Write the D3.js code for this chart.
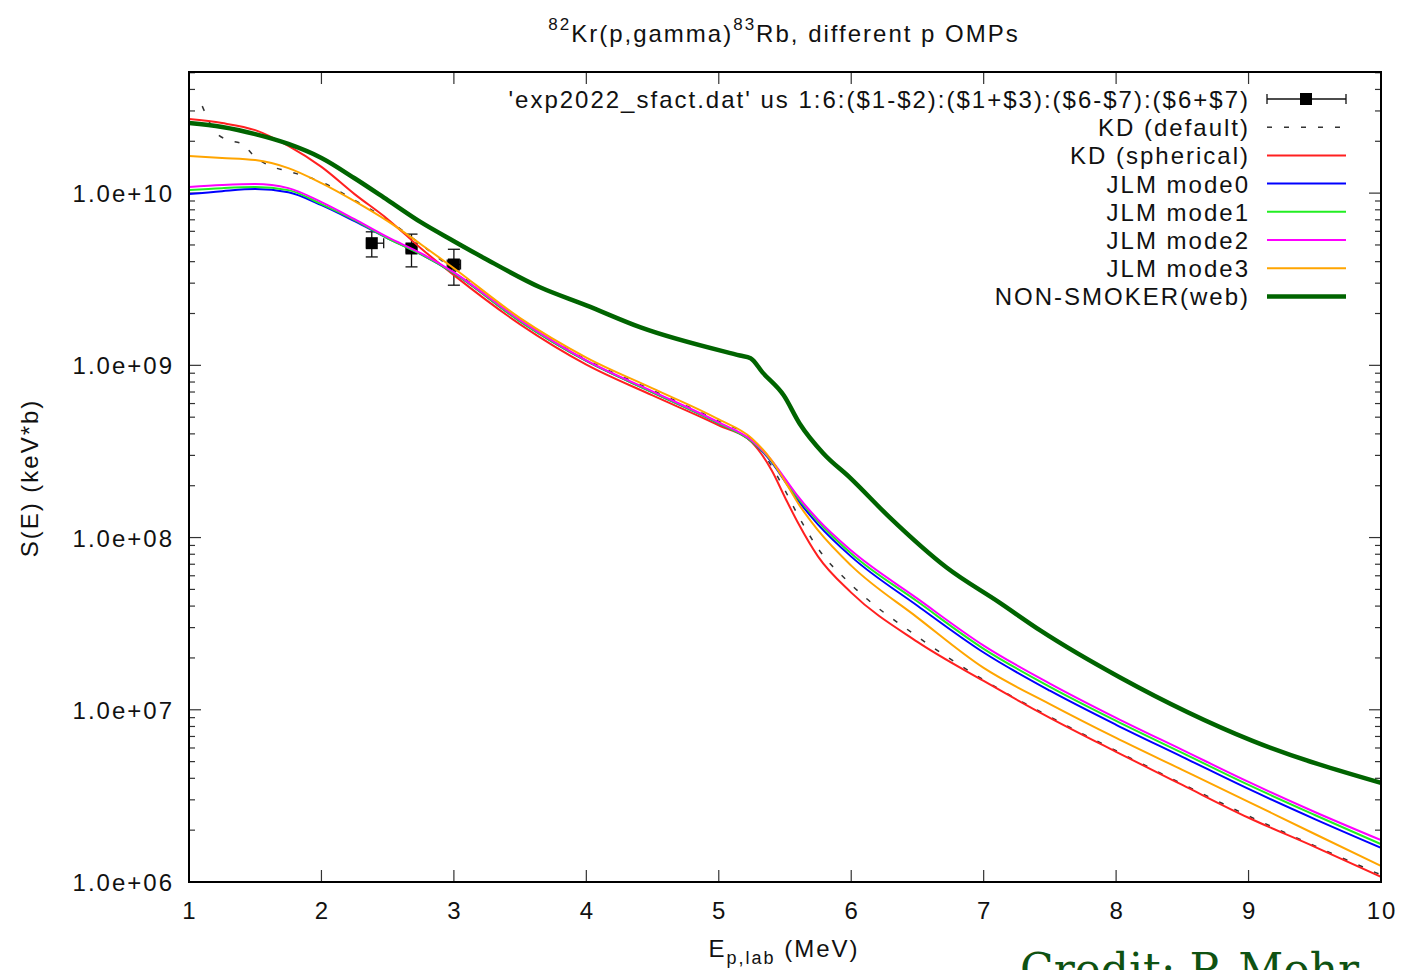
<!DOCTYPE html>
<html>
<head>
<meta charset="utf-8">
<script src="https://cdn.jsdelivr.net/npm/d3@7"></script>
<style>
  body { margin: 0; background: #fff; }
  text { font-family: "Liberation Sans", Arial, sans-serif; fill: #111; }
</style>
</head>
<body>
<div id="vis"></div>
<script>
var width = 1401
var height = 970

// energy grid (MeV) shared by the TALYS-type curves
var energyGrid = [1, 1.25, 1.5, 1.75, 2, 2.25, 2.5, 2.75, 3, 3.5, 4, 4.5, 5, 5.25, 5.4, 5.5, 5.6, 5.75, 6, 6.5, 7, 7.5, 8, 8.5, 9, 9.5, 10]

var kdSpherical = [2.69e10, 2.55e10, 2.32e10, 1.88e10, 1.42e10, 9.87e9, 7.06e9, 4.79e9, 3.34e9, 1.73e9, 1.01e9, 6.69e8, 4.48e8, 3.57e8, 2.45e8, 1.71e8, 1.21e8, 7.75e7, 4.79e7, 2.48e7, 1.47e7, 8.98e6, 5.70e6, 3.66e6, 2.36e6, 1.60e6, 1.07e6]
var jlmMode0 = [9.87e9, 1.027e10, 1.055e10, 1.013e10, 8.51e9, 6.87e9, 5.47e9, 4.42e9, 3.43e9, 1.80e9, 1.06e9, 6.97e8, 4.60e8, 3.61e8, 2.73e8, 2.12e8, 1.64e8, 1.19e8, 7.75e7, 4.02e7, 2.15e7, 1.29e7, 8.18e6, 5.33e6, 3.47e6, 2.32e6, 1.58e6]
var jlmMode1 = [1.041e10, 1.069e10, 1.084e10, 1.041e10, 8.63e9, 6.97e9, 5.47e9, 4.42e9, 3.43e9, 1.80e9, 1.06e9, 6.97e8, 4.60e8, 3.61e8, 2.77e8, 2.17e8, 1.69e8, 1.24e8, 8.07e7, 4.25e7, 2.26e7, 1.36e7, 8.63e6, 5.62e6, 3.66e6, 2.45e6, 1.66e6]
var jlmMode2 = [1.084e10, 1.113e10, 1.128e10, 1.069e10, 8.87e9, 7.06e9, 5.55e9, 4.48e9, 3.47e9, 1.83e9, 1.07e9, 7.06e8, 4.66e8, 3.66e8, 2.80e8, 2.20e8, 1.73e8, 1.27e8, 8.40e7, 4.42e7, 2.36e7, 1.42e7, 8.98e6, 5.85e6, 3.81e6, 2.55e6, 1.75e6]
var jlmMode3 = [1.64e10, 1.60e10, 1.555e10, 1.397e10, 1.143e10, 8.98e9, 6.87e9, 5.05e9, 3.66e9, 1.88e9, 1.11e9, 7.35e8, 4.85e8, 3.76e8, 2.80e8, 2.12e8, 1.58e8, 1.10e8, 6.87e7, 3.43e7, 1.75e7, 1.08e7, 6.87e6, 4.48e6, 2.92e6, 1.90e6, 1.24e6]

// KD default has its own grid
var kdDefaultE = [1.1, 1.2, 1.3, 1.4, 1.5, 1.6, 1.75, 2, 2.25, 2.5, 2.75, 3, 3.5, 4, 4.5, 5, 5.25, 5.4, 5.5, 5.6, 5.75, 6, 6.5, 7, 7.5, 8, 8.5, 9, 9.5, 10]
var kdDefault = [3.20e10, 2.26e10, 2.03e10, 1.93e10, 1.62e10, 1.45e10, 1.34e10, 1.16e10, 9.11e9, 6.97e9, 5.05e9, 3.57e9, 1.83e9, 1.08e9, 7.16e8, 4.73e8, 3.72e8, 2.59e8, 1.88e8, 1.34e8, 8.63e7, 5.33e7, 2.66e7, 1.49e7, 9.11e6, 5.78e6, 3.71e6, 2.42e6, 1.62e6, 1.10e6]

// NON-SMOKER (web)
var nonSmokerE = [1.0, 1.25, 1.5, 1.75, 2.0, 2.25, 2.5, 2.75, 3.0, 3.23, 3.65, 4.0, 4.41, 5.16, 5.24, 5.33, 5.49, 5.61, 5.79, 5.99, 6.29, 6.72, 7.12, 7.43, 8.03, 9.03, 10.0]
var nonSmoker = [2.55e10, 2.42e10, 2.20e10, 1.93e10, 1.60e10, 1.22e10, 9.11e9, 6.78e9, 5.26e9, 4.19e9, 2.84e9, 2.23e9, 1.66e9, 1.14e9, 1.10e9, 9.1e8, 6.7e8, 4.6e8, 3.08e8, 2.23e8, 1.31e8, 6.7e7, 4.19e7, 2.88e7, 1.54e7, 6.6e6, 3.76e6]

// experiment 2022
var expE = [2.38, 2.68, 3.00]
var expS = [5.12e9, 4.77e9, 3.85e9]
var expElo = [2.34, 2.64, 2.95]
var expEhi = [2.47, 2.72, 3.05]
var expSlo = [4.26e9, 3.73e9, 2.92e9]
var expShi = [5.96e9, 5.78e9, 4.72e9]

var legendLabels = ["'exp2022_sfact.dat' us 1:6:($1-$2):($1+$3):($6-$7):($6+$7)", "KD (default)", "KD (spherical)",
  "JLM mode0", "JLM mode1", "JLM mode2", "JLM mode3", "NON-SMOKER(web)"]

var xTicks = [1, 2, 3, 4, 5, 6, 7, 8, 9, 10]
var yTicks = [1e6, 1e7, 1e8, 1e9, 1e10]
var yTickLabels = ["1.0e+06", "1.0e+07", "1.0e+08", "1.0e+09", "1.0e+10"]

var svg = d3.select("#vis")
  .append("svg")
  .attr("width", width)
  .attr("height", height)
  .style("display", "block")

var plot = {left: 189, right: 1381, top: 72, bottom: 882}

var x = d3.scaleLinear().domain([1, 10]).range([plot.left, plot.right])
var y = d3.scaleLog().domain([1e6, 5.05e10]).range([plot.bottom, plot.top])

//helper for gnuplot-ish wide text
function label(parent, px, py, str, anchor) {
  return parent.append("text")
    .attr("x", px)
    .attr("y", py)
    .attr("text-anchor", anchor || "start")
    .style("font-size", "24px")
    .style("letter-spacing", "2px")
    .text(str)
}

svg.append("defs").append("clipPath").attr("id", "clip")
  .append("rect")
  .attr("x", plot.left).attr("y", plot.top)
  .attr("width", plot.right - plot.left).attr("height", plot.bottom - plot.top)

//ticks
var tickG = svg.append("g").attr("stroke", "#333").attr("stroke-width", 1.2)
xTicks.forEach(function(t) {
  tickG.append("line").attr("x1", x(t)).attr("x2", x(t)).attr("y1", plot.bottom).attr("y2", plot.bottom - 12)
  tickG.append("line").attr("x1", x(t)).attr("x2", x(t)).attr("y1", plot.top).attr("y2", plot.top + 12)
  label(svg, x(t) + 1, 919, String(t), "middle")
})
yTicks.forEach(function(t, i) {
  tickG.append("line").attr("x1", plot.left).attr("x2", plot.left + 12).attr("y1", y(t)).attr("y2", y(t))
  tickG.append("line").attr("x1", plot.right).attr("x2", plot.right - 12).attr("y1", y(t)).attr("y2", y(t))
  label(svg, 174, y(t) + 9, yTickLabels[i], "end")
})
//minor ticks
var minor = []
d3.range(6, 11).forEach(function(p) {
  d3.range(2, 10).forEach(function(m) {
    var v = m * Math.pow(10, p)
    if (v <= y.domain()[1]) minor.push(v)
  })
})
minor.forEach(function(v) {
  tickG.append("line").attr("x1", plot.left).attr("x2", plot.left + 6).attr("y1", y(v)).attr("y2", y(v))
  tickG.append("line").attr("x1", plot.right).attr("x2", plot.right - 6).attr("y1", y(v)).attr("y2", y(v))
})

//curves
var line = d3.line()
  .x(function(d) { return x(d[0]) })
  .y(function(d) { return y(d[1]) })
  .curve(d3.curveMonotoneX)

var curves = svg.append("g").attr("clip-path", "url(#clip)")

var series = [
  {E: kdDefaultE, S: kdDefault, color: "#333", width: 1.5, dash: "5,12"},
  {E: energyGrid, S: kdSpherical, color: "#ff2020", width: 2},
  {E: energyGrid, S: jlmMode0, color: "#0000ff", width: 2},
  {E: energyGrid, S: jlmMode1, color: "#22ee22", width: 2},
  {E: energyGrid, S: jlmMode2, color: "#ff00ff", width: 2},
  {E: energyGrid, S: jlmMode3, color: "#ffa500", width: 2},
  {E: nonSmokerE, S: nonSmoker, color: "#006400", width: 4.5}
]

//experimental points first (gnuplot order)
var expG = curves.append("g").attr("stroke", "#111").attr("stroke-width", 1.3)
expE.forEach(function(e, i) {
  var cx = x(e), cy = y(expS[i])
  expG.append("line").attr("x1", cx).attr("x2", cx).attr("y1", y(expShi[i])).attr("y2", y(expSlo[i]))
  expG.append("line").attr("x1", cx - 6).attr("x2", cx + 6).attr("y1", y(expShi[i])).attr("y2", y(expShi[i]))
  expG.append("line").attr("x1", cx - 6).attr("x2", cx + 6).attr("y1", y(expSlo[i])).attr("y2", y(expSlo[i]))
  expG.append("line").attr("x1", x(expElo[i])).attr("x2", x(expEhi[i])).attr("y1", cy).attr("y2", cy)
  expG.append("line").attr("x1", x(expElo[i])).attr("x2", x(expElo[i])).attr("y1", cy - 5).attr("y2", cy + 5)
  expG.append("line").attr("x1", x(expEhi[i])).attr("x2", x(expEhi[i])).attr("y1", cy - 5).attr("y2", cy + 5)
  expG.append("rect").attr("x", cx - 6).attr("y", cy - 6).attr("width", 12).attr("height", 12)
    .attr("fill", "#000").attr("stroke", "none")
})

series.forEach(function(s) {
  curves.append("path")
    .datum(d3.zip(s.E, s.S))
    .attr("d", line)
    .attr("fill", "none")
    .attr("stroke", s.color)
    .attr("stroke-width", s.width)
    .attr("stroke-dasharray", s.dash || null)
})

//frame
svg.append("rect")
  .attr("x", plot.left).attr("y", plot.top)
  .attr("width", plot.right - plot.left).attr("height", plot.bottom - plot.top)
  .attr("fill", "none").attr("stroke", "#000").attr("stroke-width", 2)

//legend
var legend = svg.append("g")
legendLabels.forEach(function(t, i) {
  var ly = 99 + i * 28.2
  label(legend, 1250, ly + 9, t, "end")
  if (i === 0) {
    var lg = legend.append("g").attr("stroke", "#111").attr("stroke-width", 1.3)
    lg.append("line").attr("x1", 1267).attr("x2", 1346).attr("y1", ly).attr("y2", ly)
    lg.append("line").attr("x1", 1267).attr("x2", 1267).attr("y1", ly - 5).attr("y2", ly + 5)
    lg.append("line").attr("x1", 1346).attr("x2", 1346).attr("y1", ly - 5).attr("y2", ly + 5)
    legend.append("rect").attr("x", 1300).attr("y", ly - 6).attr("width", 12).attr("height", 12).attr("fill", "#000")
  } else {
    var s = series[i - 1]
    legend.append("line").attr("x1", 1267).attr("x2", 1346).attr("y1", ly).attr("y2", ly)
      .attr("stroke", s.color).attr("stroke-width", s.width)
      .attr("stroke-dasharray", s.dash || null)
  }
})

//title
var title = svg.append("text")
  .attr("x", 784).attr("y", 42)
  .attr("text-anchor", "middle")
  .style("font-size", "24px")
  .style("letter-spacing", "2px")
title.append("tspan").attr("dy", -12).style("font-size", "17px").text("82")
title.append("tspan").attr("dy", 12).text("Kr(p,gamma)")
title.append("tspan").attr("dy", -12).style("font-size", "17px").text("83")
title.append("tspan").attr("dy", 12).text("Rb, different p OMPs")

//axis labels
var xl = svg.append("text")
  .attr("x", 784).attr("y", 957)
  .attr("text-anchor", "middle")
  .style("font-size", "24px")
  .style("letter-spacing", "2px")
xl.append("tspan").text("E")
xl.append("tspan").attr("dy", 7).style("font-size", "18px").text("p,lab")
xl.append("tspan").attr("dy", -7).text(" (MeV)")

svg.append("text")
  .attr("transform", "translate(38,478) rotate(-90)")
  .attr("text-anchor", "middle")
  .style("font-size", "24px")
  .style("letter-spacing", "2px")
  .text("S(E) (keV*b)")

//credit
svg.append("text")
  .attr("x", 1020).attr("y", 985)
  .style("font-family", "'DejaVu Serif', serif")
  .style("font-size", "44px")
  .style("fill", "#0f5212")
  .text("Credit: P. Mohr")
</script>
</body>
</html>
